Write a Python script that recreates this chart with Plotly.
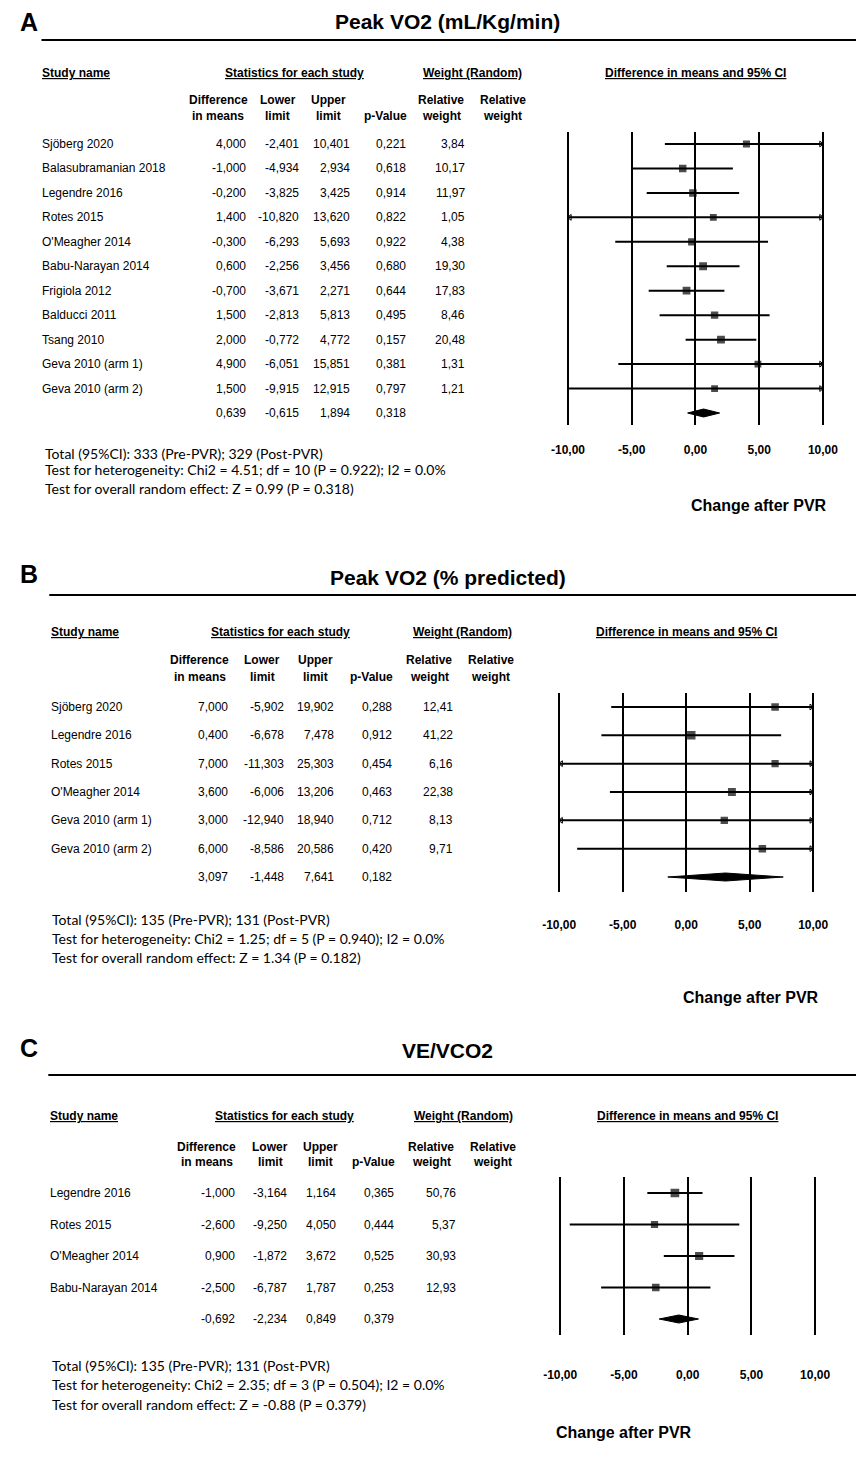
import numpy as np
import plotly.graph_objects as go

W, H = 864, 1465
OFF = 8  # page margin of the browser

# ---------------- DATA ----------------
A_studies = ["Sjöberg 2020", "Balasubramanian 2018", "Legendre 2016", "Rotes 2015",
             "O'Meagher 2014", "Babu-Narayan 2014", "Frigiola 2012", "Balducci 2011",
             "Tsang 2010", "Geva 2010 (arm 1)", "Geva 2010 (arm 2)"]
A_diff = [4.000, -1.000, -0.200, 1.400, -0.300, 0.600, -0.700, 1.500, 2.000, 4.900, 1.500]
A_lower = [-2.401, -4.934, -3.825, -10.820, -6.293, -2.256, -3.671, -2.813, -0.772, -6.051, -9.915]
A_upper = [10.401, 2.934, 3.425, 13.620, 5.693, 3.456, 2.271, 5.813, 4.772, 15.851, 12.915]
A_p = [0.221, 0.618, 0.914, 0.822, 0.922, 0.680, 0.644, 0.495, 0.157, 0.381, 0.797]
A_weight = [3.84, 10.17, 11.97, 1.05, 4.38, 19.30, 17.83, 8.46, 20.48, 1.31, 1.21]
A_summary = [0.639, -0.615, 1.894, 0.318]
A_title = "Peak VO2 (mL/Kg/min)"
A_footer = ["Total (95%CI): 333 (Pre-PVR); 329 (Post-PVR)",
            "Test for heterogeneity: Chi2 = 4.51; df = 10 (P = 0.922); I2 = 0.0%",
            "Test for overall random effect: Z = 0.99 (P = 0.318)"]

B_studies = ["Sjöberg 2020", "Legendre 2016", "Rotes 2015", "O'Meagher 2014",
             "Geva 2010 (arm 1)", "Geva 2010 (arm 2)"]
B_diff = [7.000, 0.400, 7.000, 3.600, 3.000, 6.000]
B_lower = [-5.902, -6.678, -11.303, -6.006, -12.940, -8.586]
B_upper = [19.902, 7.478, 25.303, 13.206, 18.940, 20.586]
B_p = [0.288, 0.912, 0.454, 0.463, 0.712, 0.420]
B_weight = [12.41, 41.22, 6.16, 22.38, 8.13, 9.71]
B_summary = [3.097, -1.448, 7.641, 0.182]
B_title = "Peak VO2 (% predicted)"
B_footer = ["Total (95%CI): 135 (Pre-PVR); 131 (Post-PVR)",
            "Test for heterogeneity: Chi2 = 1.25; df = 5 (P = 0.940); I2 = 0.0%",
            "Test for overall random effect: Z = 1.34 (P = 0.182)"]

C_studies = ["Legendre 2016", "Rotes 2015", "O'Meagher 2014", "Babu-Narayan 2014"]
C_diff = [-1.000, -2.600, 0.900, -2.500]
C_lower = [-3.164, -9.250, -1.872, -6.787]
C_upper = [1.164, 4.050, 3.672, 1.787]
C_p = [0.365, 0.444, 0.525, 0.253]
C_weight = [50.76, 5.37, 30.93, 12.93]
C_summary = [-0.692, -2.234, 0.849, 0.379]
C_title = "VE/VCO2"
C_footer = ["Total (95%CI): 135 (Pre-PVR); 131 (Post-PVR)",
            "Test for heterogeneity: Chi2 = 2.35; df = 3 (P = 0.504); I2 = 0.0%",
            "Test for overall random effect: Z = -0.88 (P = 0.379)"]

TICK_VALS = [-10, -5, 0, 5, 10]
TICK_TEXT = ["-10,00", "-5,00", "0,00", "5,00", "10,00"]
X_LIMIT = 10

# ---------------- LAYOUT (pixel positions in the final picture) ----------------
PANELS = [
    dict(letter="A", title=A_title, studies=A_studies, diff=A_diff, lower=A_lower, upper=A_upper,
         p=A_p, weight=A_weight, summary=A_summary, footer=A_footer,
         letter_y=22, title_y=22, rule_y=40, rule_x0=31, hdr_y=73, sub1_y=100, sub2_y=116, name_x=30,
         col_r=[242, 297, 349, 406, 467], col_c=[212, 273, 325, 440, 503],
         stats_c=290, weight_c=472, forest_c=701,
         xm10=570, xp10=831, top=132, bottom=425, row0=144, rowS=413,
         tick_y=450, change_x=766, change_y=505, foot_x=33, foot_y=[453, 470, 488]),
    dict(letter="B", title=B_title, studies=B_studies, diff=B_diff, lower=B_lower, upper=B_upper,
         p=B_p, weight=B_weight, summary=B_summary, footer=B_footer,
         letter_y=574, title_y=577, rule_y=595, rule_x0=39, hdr_y=632, sub1_y=660, sub2_y=677, name_x=39,
         col_r=[224, 281, 333, 392, 454], col_c=[193, 257, 312, 428, 491],
         stats_c=276, weight_c=462, forest_c=691,
         xm10=561, xp10=821, top=693, bottom=892, row0=707, rowS=877,
         tick_y=925, change_x=757, change_y=997, foot_x=40, foot_y=[919, 938, 957]),
    dict(letter="C", title=C_title, studies=C_studies, diff=C_diff, lower=C_lower, upper=C_upper,
         p=C_p, weight=C_weight, summary=C_summary, footer=C_footer,
         letter_y=1048, title_y=1050, rule_y=1075, rule_x0=38, hdr_y=1116, sub1_y=1147, sub2_y=1162, name_x=38,
         col_r=[231, 284, 335, 394, 457], col_c=[200, 265, 317, 430, 493],
         stats_c=280, weight_c=463, forest_c=692,
         xm10=562, xp10=823, top=1177, bottom=1335, row0=1193, rowS=1319,
         tick_y=1375, change_x=627, change_y=1432, foot_x=40, foot_y=[1365, 1384, 1404]),
]

FONT = "Liberation Sans, Arial, sans-serif"
FOOT_FONT = "Lato, Open Sans, sans-serif"
BODY = 12
HDR = 12


def fx(px):
    return (px - OFF) / W


def fy(py):
    return 1 - (py - OFF) / H


def num(v, d=3):
    return f"{v:.{d}f}".replace(".", ",")


fig = go.Figure()
annotations = []
shapes = []


def ann(text, x, y, size=BODY, bold=False, xanchor="center", yref="paper", family=FONT):
    annotations.append(dict(
        text=text, x=x, y=y, xref="paper", yref=yref, xanchor=xanchor, yanchor="middle",
        showarrow=False, font=dict(family=family, size=size, color="black",
                                   weight="bold" if bold else "normal")))


for k, P in enumerate(PANELS):
    sfx = "" if k == 0 else str(k + 1)
    xa, ya = "x" + sfx, "y" + sfx
    n = len(P["studies"])

    ppu = (P["xp10"] - P["xm10"]) / 20.0
    pad = 0.5
    xd = [fx(P["xm10"] - pad * ppu), fx(P["xp10"] + pad * ppu)]
    ppr = (P["rowS"] - P["row0"]) / n
    idx_top = (P["top"] - P["row0"]) / ppr
    idx_bot = (P["bottom"] - P["row0"]) / ppr
    yd = [fy(P["bottom"]), fy(P["top"])]

    fig.update_layout(**{
        "xaxis" + sfx: dict(domain=xd, range=[-X_LIMIT - pad, X_LIMIT + pad], anchor=ya,
                            tickvals=TICK_VALS, ticktext=TICK_TEXT, showgrid=True,
                            gridcolor="black", gridwidth=2.4, zeroline=False, showline=False,
                            ticks="", ticklabelstandoff=P["tick_y"] - P["bottom"] - 9,
                            tickfont=dict(family=FONT, size=12, color="black", weight="bold"),
                            fixedrange=True),
        "yaxis" + sfx: dict(domain=yd, range=[idx_bot, idx_top], anchor=xa, visible=False,
                            showgrid=False, zeroline=False, fixedrange=True),
    })

    ys = list(range(n))
    lo = np.clip(P["lower"], -X_LIMIT, X_LIMIT)
    hi = np.clip(P["upper"], -X_LIMIT, X_LIMIT)
    lx, ly = [], []
    for i in range(n):
        lx += [lo[i], hi[i], None]
        ly += [i, i, None]
    fig.add_trace(go.Scatter(x=lx, y=ly, mode="lines", line=dict(color="black", width=2),
                             xaxis=xa, yaxis=ya, showlegend=False, hoverinfo="skip"))

    rx = [X_LIMIT - 0.15 for i in range(n) if P["upper"][i] > X_LIMIT]
    ry = [i for i in range(n) if P["upper"][i] > X_LIMIT]
    lxa = [-X_LIMIT + 0.15 for i in range(n) if P["lower"][i] < -X_LIMIT]
    lya = [i for i in range(n) if P["lower"][i] < -X_LIMIT]
    if rx:
        fig.add_trace(go.Scatter(x=rx, y=ry, mode="markers", xaxis=xa, yaxis=ya, showlegend=False,
                                 marker=dict(symbol="triangle-right-open", size=5, color="black",
                                             line=dict(width=1, color="black")), hoverinfo="skip"))
    if lxa:
        fig.add_trace(go.Scatter(x=lxa, y=lya, mode="markers", xaxis=xa, yaxis=ya, showlegend=False,
                                 marker=dict(symbol="triangle-left-open", size=5, color="black",
                                             line=dict(width=1, color="black")), hoverinfo="skip"))

    sizes = [6.5 + 0.3 * np.sqrt(w) for w in P["weight"]]
    fig.add_trace(go.Scatter(x=P["diff"], y=ys, mode="markers", xaxis=xa, yaxis=ya, showlegend=False,
                             marker=dict(symbol="square", size=sizes, color="black", line=dict(width=0)),
                             hoverinfo="skip"))

    sd, sl, su, sp = P["summary"]
    hh = 4.0 / ppr
    fig.add_trace(go.Scatter(x=[sl, sd, su, sd, sl], y=[n, n - hh, n, n + hh, n], mode="lines",
                             fill="toself", fillcolor="black", line=dict(color="black", width=1),
                             xaxis=xa, yaxis=ya, showlegend=False, hoverinfo="skip"))

    ann(P["letter"], fx(18), fy(P["letter_y"]), size=25, bold=True)
    ann(P["title"], fx(447), fy(P["title_y"]), size=21, bold=True)
    shapes.append(dict(type="line", xref="paper", yref="paper", x0=fx(P["rule_x0"]), x1=1.0,
                       y0=fy(P["rule_y"]), y1=fy(P["rule_y"]), line=dict(color="black", width=2)))

    ann("<u>Study name</u>", fx(P["name_x"]), fy(P["hdr_y"]), size=HDR, bold=True, xanchor="left")
    ann("<u>Statistics for each study</u>", fx(P["stats_c"]), fy(P["hdr_y"]), size=HDR, bold=True)
    ann("<u>Weight (Random)</u>", fx(P["weight_c"]), fy(P["hdr_y"]), size=HDR, bold=True)
    ann("<u>Difference in means and 95% CI</u>", fx(P["forest_c"]), fy(P["hdr_y"]), size=HDR, bold=True)

    c = P["col_c"]
    r = P["col_r"]
    ann("Difference", fx(c[0]), fy(P["sub1_y"]), size=HDR, bold=True)
    ann("in means", fx(c[0]), fy(P["sub2_y"]), size=HDR, bold=True)
    ann("Lower", fx(c[1]), fy(P["sub1_y"]), size=HDR, bold=True)
    ann("limit", fx(c[1]), fy(P["sub2_y"]), size=HDR, bold=True)
    ann("Upper", fx(c[2]), fy(P["sub1_y"]), size=HDR, bold=True)
    ann("limit", fx(c[2]), fy(P["sub2_y"]), size=HDR, bold=True)
    ann("p-Value", fx(r[3] + 1), fy(P["sub2_y"]), size=HDR, bold=True, xanchor="right")
    ann("Relative", fx(c[3]), fy(P["sub1_y"]), size=HDR, bold=True)
    ann("weight", fx(c[3]), fy(P["sub2_y"]), size=HDR, bold=True)
    ann("Relative", fx(c[4]), fy(P["sub1_y"]), size=HDR, bold=True)
    ann("weight", fx(c[4]), fy(P["sub2_y"]), size=HDR, bold=True)

    for i in range(n):
        ann(P["studies"][i], fx(P["name_x"]), i, yref=ya, xanchor="left")
        ann(num(P["diff"][i]), fx(r[0]), i, yref=ya, xanchor="right")
        ann(num(P["lower"][i]), fx(r[1]), i, yref=ya, xanchor="right")
        ann(num(P["upper"][i]), fx(r[2]), i, yref=ya, xanchor="right")
        ann(num(P["p"][i]), fx(r[3]), i, yref=ya, xanchor="right")
        ann(num(P["weight"][i], 2), fx(r[4]), i, yref=ya, xanchor="right")
    ann(num(sd), fx(r[0]), n, yref=ya, xanchor="right")
    ann(num(sl), fx(r[1]), n, yref=ya, xanchor="right")
    ann(num(su), fx(r[2]), n, yref=ya, xanchor="right")
    ann(num(sp), fx(r[3]), n, yref=ya, xanchor="right")

    for j, line in enumerate(P["footer"]):
        ann(line, fx(P["foot_x"]), fy(P["foot_y"][j]), size=14, xanchor="left", family=FOOT_FONT)

    ann("Change after PVR", fx(P["change_x"]), fy(P["change_y"]), size=16, bold=True)

fig.update_layout(width=W, height=H, autosize=False, margin=dict(l=0, r=0, t=0, b=0),
                  paper_bgcolor="white", plot_bgcolor="white", showlegend=False,
                  annotations=annotations, shapes=shapes)

fig.write_html("out.html")
